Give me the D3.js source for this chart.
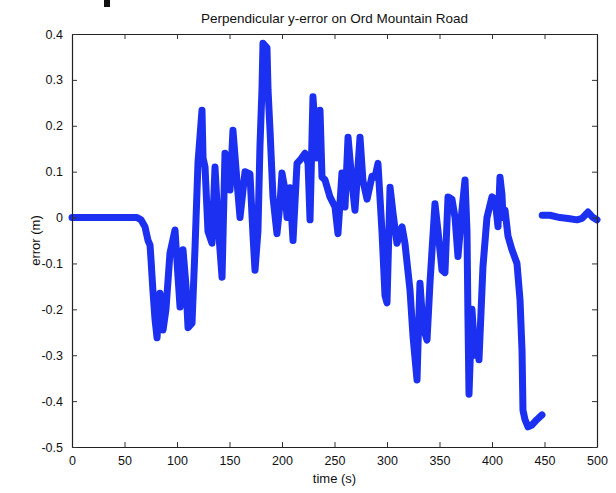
<!DOCTYPE html>
<html>
<head>
<meta charset="utf-8">
<script src="https://cdn.jsdelivr.net/npm/d3@7"></script>
<style>
body { margin: 0; background: #fff; }
svg text { font-family: "Liberation Sans", Arial, sans-serif; fill: #111; }
</style>
</head>
<body>
<div id="graphHere"></div>
<script>
// time (s) and perpendicular error (m); null marks the gap
var timeS = [0, 26.7, 61.9, 65.7, 69.5, 72.4, 74.3, 75.2, 77.1, 79.0, 81.0, 83.8, 86.7, 89.5, 93.3, 98.1,
  101.0, 102.9, 105.7, 108.6, 110.5, 114.3, 117.1, 120.0, 123.8, 124.8, 126.7, 129.5, 133.3, 136.2, 139.0,
  142.9, 145.7, 150.5, 153.3, 157.1, 160.0, 164.8, 169.5, 172.4, 174.3, 177.1, 179.0, 181.0, 181.9, 185.7,
  186.7, 188.6, 191.4, 195.2, 198.1, 200.0, 202.9, 204.8, 207.6, 210.5, 214.3, 217.1, 221.9, 224.8, 226.7,
  229.5, 233.3, 236.2, 238.1, 241.0, 245.7, 250.5, 253.3, 257.1, 260.0, 262.9, 266.7, 269.5, 274.3, 277.1,
  281.0, 285.7, 288.6, 291.4, 295.2, 298.1, 300.0, 302.9, 305.7, 309.5, 314.3, 317.1, 321.9, 324.8, 328.6,
  329.5, 331.4, 334.3, 338.1, 341.0, 345.7, 348.6, 352.4, 355.2, 358.1, 361.9, 364.8, 367.6, 371.4, 374.3,
  376.2, 377.1, 378.1, 380.9, 383.8, 385.7, 387.6, 391.4, 395.2, 400.0, 402.9, 405.7, 407.6, 409.5, 410.5,
  412.4, 415.2, 419.0, 423.8, 426.7, 428.6, 429.5, 431.4, 434.3, 438.1, 442.9, 447.6,
  447.7,
  447.8, 455.2, 464.8, 472.4, 481.0, 485.7, 491.4, 496.2, 500.0];
var errorM = [0, 0, 0, -0.005, -0.02, -0.05, -0.06, -0.09, -0.16, -0.22, -0.262, -0.165, -0.245, -0.2, -0.078, -0.027,
  -0.13, -0.195, -0.07, -0.15, -0.24, -0.23, -0.07, 0.12, 0.234, 0.13, 0.11, -0.03, -0.056, 0.11, -0.01,
  -0.13, 0.14, 0.06, 0.19, 0.08, 0.0, 0.1, 0.095, -0.04, -0.115, -0.03, 0.154, 0.284, 0.38, 0.37,
  0.278, 0.19, 0.045, -0.035, 0.03, 0.097, 0.06, 0.0, 0.065, -0.05, 0.118, 0.125, 0.14, 0.118, -0.005,
  0.263, 0.13, 0.234, 0.088, 0.082, 0.045, 0.023, -0.035, 0.097, 0.023, 0.175, 0.075, 0.016, 0.175, 0.08,
  0.04, 0.09, 0.088, 0.118, -0.03, -0.17, -0.186, 0.066, 0.01, -0.056, -0.02, -0.056, -0.158, -0.26, -0.354,
  -0.28, -0.143, -0.238, -0.267, -0.14, 0.03, -0.03, -0.115, -0.12, 0.045, 0.04, 0.0, -0.085, 0.016, 0.082,
  -0.03, -0.217, -0.385, -0.2, -0.3, -0.26, -0.31, -0.107, 0.0, 0.045, 0.04, -0.02, 0.088, 0.05, 0.0,
  0.016, -0.04, -0.07, -0.1, -0.18, -0.29, -0.42, -0.44, -0.456, -0.452, -0.44, -0.43,
  null,
  0.005, 0.005, 0.0, -0.002, -0.005, -0.002, 0.012, 0.0, -0.005];

var xTicks = [0, 50, 100, 150, 200, 250, 300, 350, 400, 450, 500];
var yTicks = [0.4, 0.3, 0.2, 0.1, 0, -0.1, -0.2, -0.3, -0.4, -0.5];
var yTickLabels = ["0.4", "0.3", "0.2", "0.1", "0", "-0.1", "-0.2", "-0.3", "-0.4", "-0.5"];

var W = 616, H = 493;
var padL = 72, padR = 597, padT = 34, padB = 447;

var svg = d3.select("#graphHere").append("svg")
  .attr("width", W).attr("height", H);

var x = d3.scaleLinear().domain([0, 500]).range([padL, padR]);
var y = d3.scaleLinear().domain([-0.5, 0.4]).range([padB, padT]);

// stray mark at the top edge of the original image
svg.append("rect").attr("x", 104).attr("y", 0).attr("width", 6).attr("height", 7).attr("fill", "#111");

var pts = timeS.map(function(t, i) { return [t, errorM[i]]; });
var line = d3.line()
  .defined(function(d) { return d[1] !== null; })
  .x(function(d) { return x(d[0]); })
  .y(function(d) { return y(d[1]); });

svg.append("path")
  .datum(pts)
  .attr("d", line)
  .attr("fill", "none")
  .attr("stroke", "#1b30f0")
  .attr("stroke-width", 7)
  .attr("stroke-linejoin", "round")
  .attr("stroke-linecap", "round");

// axes, ticks inward on every side (matlab box)
var tl = 5;
var gx = svg.append("g").attr("transform", "translate(0," + padB + ")")
  .call(d3.axisBottom(x).tickValues(xTicks).tickSize(-tl).tickPadding(9).tickSizeOuter(0));
var gxt = svg.append("g").attr("transform", "translate(0," + padT + ")")
  .call(d3.axisTop(x).tickValues(xTicks).tickSize(-tl).tickFormat("").tickSizeOuter(0));
var gy = svg.append("g").attr("transform", "translate(" + padL + ",0)")
  .call(d3.axisLeft(y).tickValues(yTicks).tickSize(-tl).tickPadding(9).tickSizeOuter(0)
    .tickFormat(function(d, i) { return yTickLabels[i]; }));
var gyr = svg.append("g").attr("transform", "translate(" + padR + ",0)")
  .call(d3.axisRight(y).tickValues(yTicks).tickSize(-tl).tickFormat("").tickSizeOuter(0));

[gx, gxt, gy, gyr].forEach(function(g) {
  g.select(".domain").attr("stroke", "#222").attr("stroke-width", 1.2);
  g.selectAll(".tick line").attr("stroke", "#333");
  g.selectAll("text").attr("font-size", 12.5).attr("fill", "#111")
    .attr("font-family", "'Liberation Sans', Arial, sans-serif");
});

svg.append("text").attr("x", (padL + padR) / 2).attr("y", 23)
  .attr("text-anchor", "middle").attr("font-size", 13.5)
  .text("Perpendicular y-error on Ord Mountain Road");

svg.append("text").attr("x", (padL + padR) / 2).attr("y", 483)
  .attr("text-anchor", "middle").attr("font-size", 13)
  .text("time (s)");

svg.append("text")
  .attr("transform", "translate(40," + ((padT + padB) / 2) + ") rotate(-90)")
  .attr("text-anchor", "middle").attr("font-size", 13)
  .text("error (m)");
</script>
</body>
</html>
